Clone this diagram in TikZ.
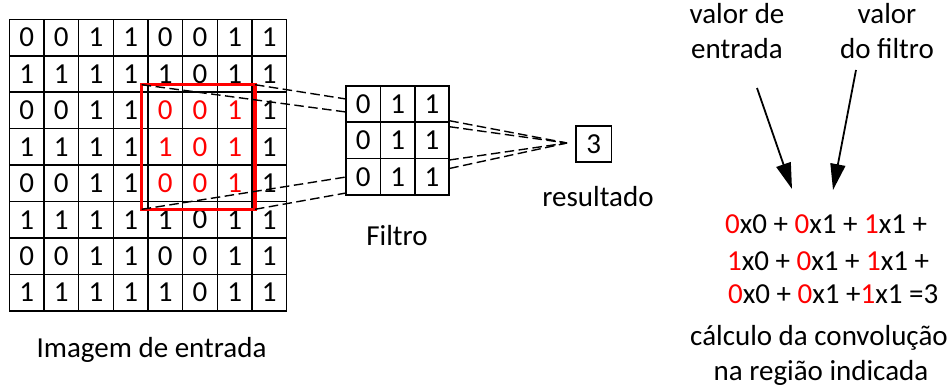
\documentclass[tikz,border=0pt]{standalone}
\usepackage{fontspec}
\setmainfont{Carlito}
\usetikzlibrary{arrows.meta}
\begin{document}
\begin{tikzpicture}[x=1pt,y=-1pt,
  every node/.style={font=\fontsize{29}{35}\selectfont},
  cell/.style={draw, line width=1.6pt, minimum width=34.67pt, minimum height=36.43pt, inner sep=0pt, outer sep=0pt},
  fcell/.style={draw, line width=1.6pt, minimum width=34.43pt, minimum height=36.43pt, inner sep=0pt, outer sep=0pt},
  link/.style={line width=1.4pt, dash pattern=on 9.5pt off 4.5pt},
  pointer/.style={line width=1.8pt, -{Triangle[length=26pt,width=15pt]}},
  lbl/.style={anchor=base, inner sep=0pt}
]
\useasboundingbox (0,0) rectangle (952,388);
% input image
\foreach \r in {0,...,7}{
  \foreach \c/\a/\b in {0/0/1,1/0/1,2/1/1,3/1/1,4/0/1,5/0/0,6/1/1,7/1/1}{
    \pgfmathtruncatemacro\val{mod(\r,2)==0 ? \a : \b}
    \pgfmathtruncatemacro\isred{(\r>=2)&&(\r<=4)&&(\c>=4)&&(\c<=6)}
    \ifnum\isred=1 \def\cc{red}\else\def\cc{black}\fi
    \node[cell, text=\cc] (in-\r-\c) at ({9.3+34.67*(\c+0.5)}, {19.3+36.43*(\r+0.5)}) {\val};
  }
}
\node[draw=red, line width=3.5pt, minimum width=113.3pt, minimum height=124.6pt, inner sep=0pt, outer sep=0pt] (redbox) at (198.35,147) {};
% filter
\foreach \r in {0,1,2}{
  \foreach \c/\v in {0/0,1/1,2/1}{
    \node[fcell] (f-\r-\c) at ({346+34.43*(\c+0.5)}, {85.7+36.43*(\r+0.5)}) {\v};
  }
}
% result
\node[draw, line width=1.6pt, minimum width=35.7pt, minimum height=36pt, inner sep=0pt] (res) at (593.8,143.7) {3};
% connector end points
\coordinate (fA) at (346,99);
\coordinate (fB) at (346,112);
\coordinate (fC) at (346,177);
\coordinate (fD) at (346,193);
\coordinate (gA) at (449.3,120.7);
\coordinate (gB) at (449.3,126.7);
\coordinate (gC) at (449.3,160);
\coordinate (gD) at (449.3,168.5);
\coordinate (conv) at (567,143);
\draw[link] (redbox.north east) -- (fA);
\draw[link] (redbox.north west) -- (fB);
\draw[link] (redbox.south west) -- (fC);
\draw[link] (redbox.south east) -- (fD);
\draw[link] (gA) -- (conv);
\draw[link] (gB) -- (conv);
\draw[link] (gC) -- (conv);
\draw[link] (gD) -- (conv);
% labels
\node[lbl] (limg) at (151.5,357) {Imagem de entrada};
\node[lbl] (lfil) at (397,245) {Filtro};
\node[lbl] (lres) at (598,206) {resultado};
\node[lbl] (lv1a) at (737,23.3) {valor de};
\node[lbl] (lv1b) at (737,58.3) {entrada};
\node[lbl] (lv2a) at (887,23.3) {valor};
\node[lbl] (lv2b) at (887,58.3) {do filtro};
% equation
\node[anchor=base west, inner sep=0pt] (eq1) at (725,233) {\textcolor{red}{0}x0 + \textcolor{red}{0}x1 + \textcolor{red}{1}x1 +};
\node[anchor=base west, inner sep=0pt] (eq2) at (727,270) {\textcolor{red}{1}x0 + \textcolor{red}{0}x1 + \textcolor{red}{1}x1 +};
\node[anchor=base west, inner sep=0pt] (eq3) at (728,303.3) {\textcolor{red}{0}x0 + \textcolor{red}{0}x1 +\textcolor{red}{1}x1 =3};
\node[lbl] (lc1) at (819,345) {cálculo da convolução};
\node[lbl] (lc2) at (821,380) {na região indicada};
% pointers
\coordinate (p1s) at (757,88);
\coordinate (p1e) at (792,189);
\coordinate (p2s) at (856,70);
\coordinate (p2e) at (833,190);
\draw[pointer] (p1s) -- (p1e);
\draw[pointer] (p2s) -- (p2e);
\end{tikzpicture}
\end{document}
